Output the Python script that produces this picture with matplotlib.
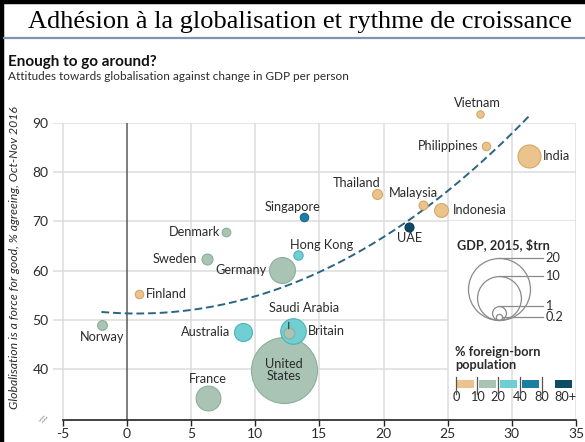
import numpy as np
import matplotlib
matplotlib.use("Agg")
import matplotlib.pyplot as plt
from matplotlib.lines import Line2D
from matplotlib.patches import Rectangle
from matplotlib.transforms import ScaledTranslation

# data
countries = ["United States", "Germany", "Britain", "France", "India", "Australia",
             "Indonesia", "Saudi Arabia", "Sweden", "Norway", "Thailand", "Hong Kong",
             "Malaysia", "UAE", "Denmark", "Singapore", "Philippines", "Finland", "Vietnam"]
gdp_growth = [12.2, 12.1, 12.9, 6.3, 31.35, 9.0, 24.5, 12.6, 6.25, -1.97, 19.5, 13.3,
              23.05, 22.0, 7.7, 13.8, 27.95, 0.94, 27.5]
pct_agree = [39.8, 60.1, 47.7, 34.1, 83.2, 47.5, 72.3, 47.3, 62.4, 48.9, 75.6, 63.2,
             73.3, 68.9, 67.8, 70.9, 85.3, 55.3, 91.8]
gdp_trn = [22.7, 3.5, 3.4, 3.2, 2.75, 1.7, 1.0, 0.63, 0.63, 0.5, 0.52, 0.45,
           0.42, 0.42, 0.39, 0.37, 0.37, 0.37, 0.28]
# foreign-born band: 0 = 0-10, 1 = 10-20, 2 = 20-40, 3 = 40-80, 4 = 80+
foreign_band = [1, 1, 2, 1, 0, 2, 0, 1, 1, 1, 0, 2, 0, 4, 1, 3, 0, 0, 0]

# trend line points
trend_x = [-2, 0, 4.9, 10.1, 12.5, 22.1, 27.5, 31.4]
trend_y = [51.4, 51.3, 52.4, 54.6, 57.0, 69.7, 83.0, 91.0]

legend_gdp = [20, 10, 1, 0.2]
band_labels = ["0", "10", "20", "40", "80", "80+"]

band_fill = ["#ebc38d", "#a9c4b4", "#70cfd2", "#1d7ea3", "#0e4a66"]
band_edge = ["#d6a767", "#8caf9b", "#4db3b7", "#176a8a", "#0a3850"]
txt = "#2b2b2b"
fs = 9.2

plt.rcParams["font.family"] = ["Lato", "DejaVu Sans"]

W, H = 585, 442
fig = plt.figure(figsize=(W / 100, H / 100), dpi=100)


def fx(px):
    return px / W


def fy(py):
    return 1 - py / H


# frame and banner
fig.add_artist(Line2D([0, 1], [fy(1.5), fy(1.5)], color="black", lw=3.2))
fig.add_artist(Line2D([fx(2), fx(2)], [0, 1], color="black", lw=3.2))
fig.add_artist(Line2D([fx(4), 1], [fy(37.5), fy(37.5)], color="#7e93b5", lw=1.6))
fig.text(fx(300), fy(22), "Adhésion à la globalisation et rythme de croissance",
         family=["Liberation Serif", "DejaVu Serif"], fontsize=19, ha="center", va="center",
         color="black")
fig.text(fx(8), fy(62), "Enough to go around?", fontsize=11, fontweight="bold",
         ha="left", va="center", color="#111111")
fig.text(fx(8), fy(77), "Attitudes towards globalisation against change in GDP per person",
         fontsize=8.5, ha="left", va="center", color=txt)
fig.text(fx(15), fy(258), "Globalisation is a force for good, % agreeing, Oct-Nov 2016",
         fontsize=8.8, style="italic", rotation=90, ha="center", va="center", color=txt)
fig.text(fx(43), fy(420), "//", fontsize=7, ha="center", va="center", color="#777777",
         rotation=-20)

ax = fig.add_axes([52.7 / W, 22 / H, (576 - 52.7) / W, (420 - 123) / H])
ax.set_xlim(-5.8, 35)
ax.set_ylim(29.6, 90)

# grid (legend box keeps lower-right corner clear)
grid_c = "#dcdcdc"
for yv in [40, 50, 60, 70, 80, 90]:
    xmax = 1 if yv >= 70 else (25 + 5.8) / 40.8
    ax.axhline(yv, xmax=xmax, color=grid_c, lw=1.1, zorder=0)
for xv in range(-5, 36, 5):
    ax.axvline(xv, color="#5a5a5a" if xv == 0 else grid_c, lw=1.1, zorder=0.5)

for s in ["top", "right", "left"]:
    ax.spines[s].set_visible(False)
ax.spines["bottom"].set_bounds(-5, 35)
ax.spines["bottom"].set_color("#222222")
ax.spines["bottom"].set_linewidth(1.2)
ax.set_xticks(range(-5, 36, 5))
ax.set_xticklabels([str(v) for v in range(-5, 36, 5)])
ax.set_yticks(range(40, 91, 10))
ax.tick_params(axis="x", direction="out", length=4, width=1, color="#222222",
               labelsize=10, labelcolor=txt, pad=2)
ax.tick_params(axis="y", length=0, labelsize=10, labelcolor=txt, pad=3)


def radius_px(g):
    return 31 * np.sqrt(g / 20)


# trend line
coef = np.polyfit(trend_x, trend_y, 3)
tx = np.linspace(min(trend_x), max(trend_x), 200)
ax.plot(tx, np.polyval(coef, tx), color="#2a6584", lw=1.4, ls=(0, (4, 2)), zorder=2,
        clip_on=False)

# bubbles, largest first
order = np.argsort(gdp_trn)[::-1]
for i in order:
    r = radius_px(gdp_trn[i])
    ax.scatter(gdp_growth[i], pct_agree[i], s=(2 * r * 0.72) ** 2,
               color=band_fill[foreign_band[i]], edgecolors=band_edge[foreign_band[i]],
               linewidths=0.8, zorder=3, clip_on=False)

# labels: offset in px, alignment
label_pos = {
    "Vietnam": (-2, 11, "center"), "Philippines": (-7, 0, "right"),
    "India": (14, 0, "left"), "Thailand": (-21, 11, "center"),
    "Malaysia": (-9, 12, "center"), "Indonesia": (12, 0, "left"),
    "UAE": (0, -11, "center"), "Singapore": (-12, 10, "center"),
    "Hong Kong": (24, 10, "center"), "Germany": (-16, 0, "right"),
    "Denmark": (-6, 0, "right"), "Sweden": (-10, 0, "right"),
    "Finland": (7, 0, "left"), "Norway": (0, -12, "center"),
    "Australia": (-12, 0, "right"), "Saudi Arabia": (15, 25, "center"),
    "Britain": (15, 0, "left"), "United States": (0, 0, "center"),
    "France": (0, 19, "center"),
}
for i, name in enumerate(countries):
    dx, dy, ha = label_pos[name]
    text = "United\nStates" if name == "United States" else name
    ax.annotate(text, (gdp_growth[i], pct_agree[i]), xytext=(dx * 0.72, dy * 0.72),
                textcoords="offset points", ha=ha, va="center", fontsize=fs,
                color=txt, zorder=5, annotation_clip=False, linespacing=1.0)
sa = countries.index("Saudi Arabia")
ax.annotate("", (gdp_growth[sa], pct_agree[sa] + 0.3), xytext=(0, 12 * 0.72),
            textcoords="offset points",
            arrowprops=dict(arrowstyle="-", color="#444444", lw=0.9), zorder=5)

# legend box
ax.add_patch(Rectangle((25, 29.6), 10, 70 - 29.6, facecolor="white", edgecolor="none",
                       zorder=0.2))
ax.text(25.7, 65.2, "GDP, 2015, $trn", fontsize=fs, fontweight="bold", color=txt,
        ha="left", va="center")
cx, base = 29.0, 50.0
for g in legend_gdp:
    r = radius_px(g)
    up = ScaledTranslation(0, r / 100, fig.dpi_scale_trans)
    ax.plot([cx], [base], marker="o", ms=2 * r * 0.72, mfc="none", mec="#8a8a8a", mew=0.9,
            transform=ax.transData + up, zorder=4, clip_on=False)
    if g >= 1:
        line_x0, lift = cx, 2 * r
    else:
        line_x0, lift = cx + r / 12.83, r
    lt = ScaledTranslation(0, lift / 100, fig.dpi_scale_trans)
    ax.plot([line_x0, 32.4], [base, base], color="#8a8a8a", lw=0.9,
            transform=ax.transData + lt, zorder=4, clip_on=False)
    ax.text(32.6, base, f"{g:g}", fontsize=fs, color=txt, ha="left", va="center",
            transform=ax.transData + lt)

ax.text(25.6, 42.1, "% foreign-born\npopulation", fontsize=fs, fontweight="bold",
        color=txt, ha="left", va="center", linespacing=1.1)
box_x = [25.7, 27.4, 29.07, 30.79, 33.36]
for k, x0 in enumerate(box_x):
    ax.add_patch(Rectangle((x0, 36.1), 1.35, 1.7, facecolor=band_fill[k],
                           edgecolor="none", zorder=4))
tick_x = [25.64, 27.28, 28.92, 30.63, 32.35, 34.14]
for k, xv in enumerate(tick_x):
    if k < 5:
        ax.plot([xv, xv], [34.9, 38.3], color="#555555", lw=0.9, zorder=4)
    ax.text(xv, 34.3, band_labels[k], fontsize=fs, color=txt, ha="center", va="center")

fig.savefig("out.png", dpi=100)
